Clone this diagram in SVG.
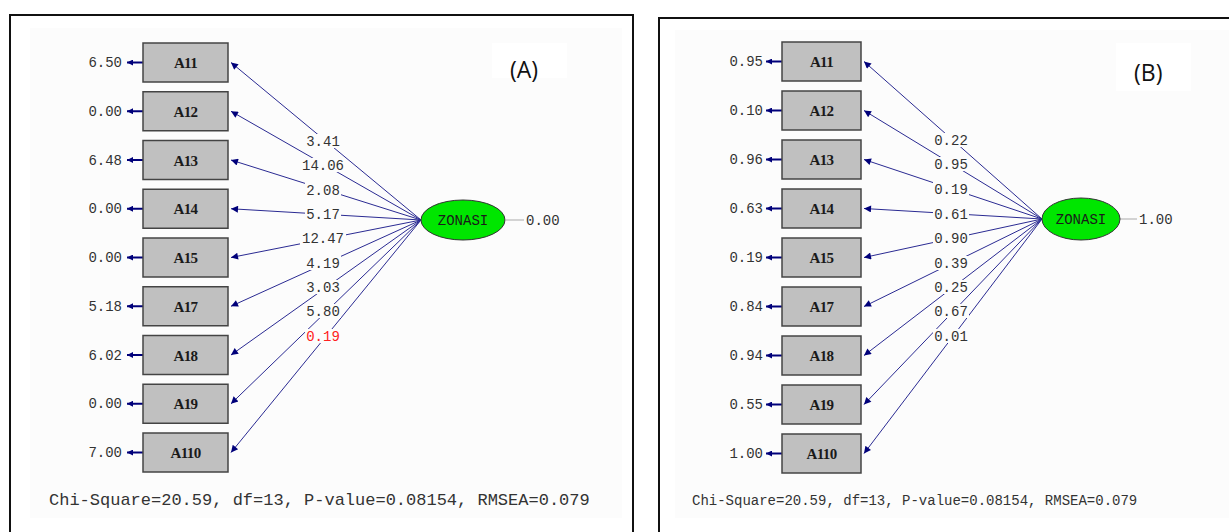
<svg xmlns="http://www.w3.org/2000/svg" width="1229" height="532" viewBox="0 0 1229 532">
<style>
.frame{fill:none;stroke:#111;stroke-width:2}
.bg{fill:#fcfcfc}
.box{fill:#c0c0c0;stroke:#444;stroke-width:1.5}
.bl{font-family:"Liberation Serif",serif;font-size:15px;font-weight:bold;fill:#1a1a1a;text-anchor:middle;letter-spacing:-0.6px}
.num{font-family:"Liberation Mono",monospace;font-size:14px;fill:#333}
.lbl{font-family:"Liberation Mono",monospace;font-size:14px;fill:#333;text-anchor:middle}
.lbg{fill:#fcfcfc}
.ln{stroke:#2a2a92;stroke-width:1;fill:none}
.err{stroke:#00007a;stroke-width:2;fill:none}
.ell{fill:#00e600;stroke:#333;stroke-width:1}
.ltxt{font-family:"Liberation Mono",monospace;font-size:14px;fill:#1a1a1a;text-anchor:middle}
.gl{stroke:#aaa;stroke-width:1}
.tag{font-family:"Open Sans","Liberation Sans",sans-serif;font-size:23px;fill:#111}
.stat{font-family:"Liberation Mono",monospace;fill:#333}
</style>
<defs>
<marker id="ah" viewBox="0 0 10 10" refX="10" refY="5" markerWidth="10" markerHeight="7" markerUnits="userSpaceOnUse" orient="auto"><path d="M0,0 L10,5 L0,10 z" fill="#00007a"/></marker>
<marker id="eh" viewBox="0 0 10 10" refX="10" refY="5" markerWidth="8" markerHeight="6" markerUnits="userSpaceOnUse" orient="auto"><path d="M0,0 L10,5 L0,10 z" fill="#00007a"/></marker>
</defs>
<rect width="1229" height="532" fill="#fff"/>
<g id="panelA">
<rect class="bg" x="30" y="28" width="592" height="490"/>
<rect x="492" y="43" width="75" height="35" fill="#fff"/>
<path class="frame" d="M10,532 V15 H633 V532"/>
<text class="tag" x="510" y="78">(A)</text>
<text class="stat" x="49" y="505" font-size="17">Chi-Square=20.59, df=13, P-value=0.08154, RMSEA=0.079</text>
</g>
<g id="panelB">
<rect class="bg" x="675" y="30" width="554" height="488"/>
<rect x="1116" y="43" width="75" height="48" fill="#fff"/>
<path class="frame" d="M659,532 V18 H1230"/>
<text class="tag" x="1134" y="81">(B)</text>
<text class="stat" x="692" y="505" font-size="14">Chi-Square=20.59, df=13, P-value=0.08154, RMSEA=0.079</text>
</g>

<g id="connectorsA">
<line class="ln" x1="421" y1="220" x2="231" y2="62.5" marker-end="url(#ah)"/>
<line class="ln" x1="421" y1="220" x2="231" y2="111.25" marker-end="url(#ah)"/>
<line class="ln" x1="421" y1="220" x2="231" y2="160" marker-end="url(#ah)"/>
<line class="ln" x1="421" y1="220" x2="231" y2="208.75" marker-end="url(#ah)"/>
<line class="ln" x1="421" y1="220" x2="231" y2="257.5" marker-end="url(#ah)"/>
<line class="ln" x1="421" y1="220" x2="231" y2="306.25" marker-end="url(#ah)"/>
<line class="ln" x1="421" y1="220" x2="231" y2="355" marker-end="url(#ah)"/>
<line class="ln" x1="421" y1="220" x2="231" y2="403.75" marker-end="url(#ah)"/>
<line class="ln" x1="421" y1="220" x2="231" y2="452.5" marker-end="url(#ah)"/>
<line class="gl" x1="506" y1="220" x2="524" y2="220"/>
<g>
<rect class="lbg" x="305" y="134" width="36" height="14"/><text class="lbl" x="323" y="146">3.41</text>
<rect class="lbg" x="300" y="158" width="46" height="14"/><text class="lbl" x="323" y="170">14.06</text>
<rect class="lbg" x="305" y="183" width="36" height="14"/><text class="lbl" x="323" y="195">2.08</text>
<rect class="lbg" x="305" y="207" width="36" height="14"/><text class="lbl" x="323" y="219">5.17</text>
<rect class="lbg" x="300" y="231" width="46" height="14"/><text class="lbl" x="323" y="243">12.47</text>
<rect class="lbg" x="305" y="256" width="36" height="14"/><text class="lbl" x="323" y="268">4.19</text>
<rect class="lbg" x="305" y="280" width="36" height="14"/><text class="lbl" x="323" y="292">3.03</text>
<rect class="lbg" x="305" y="304" width="36" height="14"/><text class="lbl" x="323" y="316">5.80</text>
<rect class="lbg" x="305" y="329" width="36" height="14"/><text class="lbl" x="323" y="341" style="fill:#ff2020">0.19</text>
</g>
<line class="err" x1="143" y1="62.5" x2="127" y2="62.5" marker-end="url(#eh)"/>
<line class="err" x1="143" y1="111.25" x2="127" y2="111.25" marker-end="url(#eh)"/>
<line class="err" x1="143" y1="160" x2="127" y2="160" marker-end="url(#eh)"/>
<line class="err" x1="143" y1="208.75" x2="127" y2="208.75" marker-end="url(#eh)"/>
<line class="err" x1="143" y1="257.5" x2="127" y2="257.5" marker-end="url(#eh)"/>
<line class="err" x1="143" y1="306.25" x2="127" y2="306.25" marker-end="url(#eh)"/>
<line class="err" x1="143" y1="355" x2="127" y2="355" marker-end="url(#eh)"/>
<line class="err" x1="143" y1="403.75" x2="127" y2="403.75" marker-end="url(#eh)"/>
<line class="err" x1="143" y1="452.5" x2="127" y2="452.5" marker-end="url(#eh)"/>
</g>

<g id="A_A11"><rect class="box" x="143" y="43" width="85" height="39"/><text class="bl" x="185.5" y="68">A11</text><text class="num" x="122" y="67" text-anchor="end">6.50</text></g>
<g id="A_A12"><rect class="box" x="143" y="91.75" width="85" height="39"/><text class="bl" x="185.5" y="116.75">A12</text><text class="num" x="122" y="115.75" text-anchor="end">0.00</text></g>
<g id="A_A13"><rect class="box" x="143" y="140.5" width="85" height="39"/><text class="bl" x="185.5" y="165.5">A13</text><text class="num" x="122" y="164.5" text-anchor="end">6.48</text></g>
<g id="A_A14"><rect class="box" x="143" y="189.25" width="85" height="39"/><text class="bl" x="185.5" y="214.25">A14</text><text class="num" x="122" y="213.25" text-anchor="end">0.00</text></g>
<g id="A_A15"><rect class="box" x="143" y="238" width="85" height="39"/><text class="bl" x="185.5" y="263">A15</text><text class="num" x="122" y="262" text-anchor="end">0.00</text></g>
<g id="A_A17"><rect class="box" x="143" y="286.75" width="85" height="39"/><text class="bl" x="185.5" y="311.75">A17</text><text class="num" x="122" y="310.75" text-anchor="end">5.18</text></g>
<g id="A_A18"><rect class="box" x="143" y="335.5" width="85" height="39"/><text class="bl" x="185.5" y="360.5">A18</text><text class="num" x="122" y="359.5" text-anchor="end">6.02</text></g>
<g id="A_A19"><rect class="box" x="143" y="384.25" width="85" height="39"/><text class="bl" x="185.5" y="409.25">A19</text><text class="num" x="122" y="408.25" text-anchor="end">0.00</text></g>
<g id="A_A110"><rect class="box" x="143" y="433" width="85" height="39"/><text class="bl" x="185.5" y="458">A110</text><text class="num" x="122" y="457" text-anchor="end">7.00</text></g>
<g id="A_ZONASI"><ellipse class="ell" cx="463" cy="220" rx="42" ry="20"/><text class="ltxt" x="463" y="225">ZONASI</text><text class="num" x="526" y="225">0.00</text></g>

<g id="connectorsB">
<line class="ln" x1="1042" y1="219" x2="864" y2="61.5" marker-end="url(#ah)"/>
<line class="ln" x1="1042" y1="219" x2="864" y2="110.5" marker-end="url(#ah)"/>
<line class="ln" x1="1042" y1="219" x2="864" y2="159.5" marker-end="url(#ah)"/>
<line class="ln" x1="1042" y1="219" x2="864" y2="208.5" marker-end="url(#ah)"/>
<line class="ln" x1="1042" y1="219" x2="864" y2="257.5" marker-end="url(#ah)"/>
<line class="ln" x1="1042" y1="219" x2="864" y2="306.5" marker-end="url(#ah)"/>
<line class="ln" x1="1042" y1="219" x2="864" y2="355.5" marker-end="url(#ah)"/>
<line class="ln" x1="1042" y1="219" x2="864" y2="404.5" marker-end="url(#ah)"/>
<line class="ln" x1="1042" y1="219" x2="864" y2="453.5" marker-end="url(#ah)"/>
<line class="gl" x1="1120" y1="219" x2="1137" y2="219"/>
<g>
<rect class="lbg" x="933" y="133" width="36" height="14"/><text class="lbl" x="951" y="145">0.22</text>
<rect class="lbg" x="933" y="157" width="36" height="14"/><text class="lbl" x="951" y="169">0.95</text>
<rect class="lbg" x="933" y="182" width="36" height="14"/><text class="lbl" x="951" y="194">0.19</text>
<rect class="lbg" x="933" y="207" width="36" height="14"/><text class="lbl" x="951" y="219">0.61</text>
<rect class="lbg" x="933" y="231" width="36" height="14"/><text class="lbl" x="951" y="243">0.90</text>
<rect class="lbg" x="933" y="256" width="36" height="14"/><text class="lbl" x="951" y="268">0.39</text>
<rect class="lbg" x="933" y="280" width="36" height="14"/><text class="lbl" x="951" y="292">0.25</text>
<rect class="lbg" x="933" y="304" width="36" height="14"/><text class="lbl" x="951" y="316">0.67</text>
<rect class="lbg" x="933" y="329" width="36" height="14"/><text class="lbl" x="951" y="341">0.01</text>
</g>
<line class="err" x1="782" y1="61.5" x2="766" y2="61.5" marker-end="url(#eh)"/>
<line class="err" x1="782" y1="110.5" x2="766" y2="110.5" marker-end="url(#eh)"/>
<line class="err" x1="782" y1="159.5" x2="766" y2="159.5" marker-end="url(#eh)"/>
<line class="err" x1="782" y1="208.5" x2="766" y2="208.5" marker-end="url(#eh)"/>
<line class="err" x1="782" y1="257.5" x2="766" y2="257.5" marker-end="url(#eh)"/>
<line class="err" x1="782" y1="306.5" x2="766" y2="306.5" marker-end="url(#eh)"/>
<line class="err" x1="782" y1="355.5" x2="766" y2="355.5" marker-end="url(#eh)"/>
<line class="err" x1="782" y1="404.5" x2="766" y2="404.5" marker-end="url(#eh)"/>
<line class="err" x1="782" y1="453.5" x2="766" y2="453.5" marker-end="url(#eh)"/>
</g>

<g id="B_A11"><rect class="box" x="782" y="42" width="79" height="39"/><text class="bl" x="821.5" y="67">A11</text><text class="num" x="763" y="66" text-anchor="end">0.95</text></g>
<g id="B_A12"><rect class="box" x="782" y="91" width="79" height="39"/><text class="bl" x="821.5" y="116">A12</text><text class="num" x="763" y="115" text-anchor="end">0.10</text></g>
<g id="B_A13"><rect class="box" x="782" y="140" width="79" height="39"/><text class="bl" x="821.5" y="165">A13</text><text class="num" x="763" y="164" text-anchor="end">0.96</text></g>
<g id="B_A14"><rect class="box" x="782" y="189" width="79" height="39"/><text class="bl" x="821.5" y="214">A14</text><text class="num" x="763" y="213" text-anchor="end">0.63</text></g>
<g id="B_A15"><rect class="box" x="782" y="238" width="79" height="39"/><text class="bl" x="821.5" y="263">A15</text><text class="num" x="763" y="262" text-anchor="end">0.19</text></g>
<g id="B_A17"><rect class="box" x="782" y="287" width="79" height="39"/><text class="bl" x="821.5" y="312">A17</text><text class="num" x="763" y="311" text-anchor="end">0.84</text></g>
<g id="B_A18"><rect class="box" x="782" y="336" width="79" height="39"/><text class="bl" x="821.5" y="361">A18</text><text class="num" x="763" y="360" text-anchor="end">0.94</text></g>
<g id="B_A19"><rect class="box" x="782" y="385" width="79" height="39"/><text class="bl" x="821.5" y="410">A19</text><text class="num" x="763" y="409" text-anchor="end">0.55</text></g>
<g id="B_A110"><rect class="box" x="782" y="434" width="79" height="39"/><text class="bl" x="821.5" y="459">A110</text><text class="num" x="763" y="458" text-anchor="end">1.00</text></g>
<g id="B_ZONASI"><ellipse class="ell" cx="1081" cy="219" rx="39" ry="21"/><text class="ltxt" x="1081" y="224">ZONASI</text><text class="num" x="1139" y="224">1.00</text></g>
</svg>
